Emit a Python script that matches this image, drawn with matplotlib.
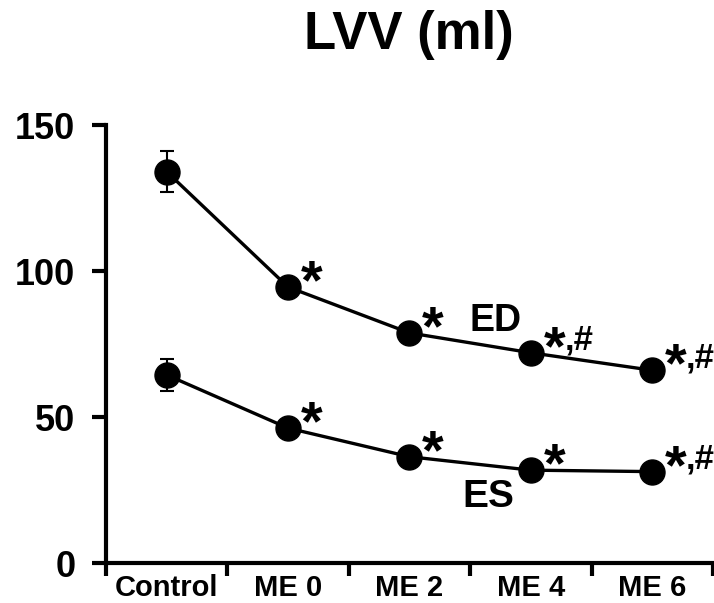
import numpy as np
import matplotlib.pyplot as plt

# data
groups = ['Control', 'ME 0', 'ME 2', 'ME 4', 'ME 6']
ed_mean = [134, 94.5, 78.8, 72, 66]
ed_err = [7, 3, 2, 3, 3]
es_mean = [64.4, 46.2, 36.4, 31.8, 31.3]
es_err = [5.5, 2.5, 2, 2, 1.5]
ed_marks = ['', '*', '*', '*,#', '*,#']
es_marks = ['', '*', '*', '*', '*,#']

plt.rcParams['font.family'] = ['Liberation Sans', 'DejaVu Sans']

fig = plt.figure(figsize=(7.14, 6.03), dpi=100)
ax = fig.add_axes([0.1485, 0.0663, 0.850, 0.7264])

x = np.arange(len(groups))
for mean, err in [(ed_mean, ed_err), (es_mean, es_err)]:
    ax.errorbar(x, mean, yerr=err, color='black', lw=2.4, marker='o',
                markersize=18, elinewidth=1.5, capsize=5, capthick=1.5)


def put_marks(marks, mean):
    for xi, yi, m in zip(x, mean, marks):
        if not m:
            continue
        ax.annotate('*', (xi, yi), xytext=(9, 2), textcoords='offset points',
                    fontsize=40, fontweight='bold', ha='left', va='center')
        if '#' in m:
            ax.annotate(',#', (xi, yi), xytext=(24, 9), textcoords='offset points',
                        fontsize=25, fontweight='bold', ha='left', va='center')


put_marks(ed_marks, ed_mean)
put_marks(es_marks, es_mean)

ax.text(2.71, 83, 'ED', fontsize=27, fontweight='bold', ha='center', va='center')
ax.text(2.65, 22.5, 'ES', fontsize=28, fontweight='bold', ha='center', va='center')

ax.set_xlim(-0.5, 4.5)
ax.set_ylim(0, 150)
ax.set_yticks([0, 50, 100, 150])
ax.set_xticks(x)
ax.set_xticklabels(groups, fontsize=21, fontweight='bold')
ax.set_xticks(np.arange(-0.5, 5, 1), minor=True)
ax.tick_params(axis='x', which='major', length=0, pad=8)
ax.tick_params(axis='x', which='minor', length=9, width=3, direction='out')
ax.tick_params(axis='y', length=10, width=3, labelsize=26, pad=12)
for lab in ax.get_yticklabels():
    lab.set_fontweight('bold')

for side in ['top', 'right']:
    ax.spines[side].set_visible(False)
for side in ['left', 'bottom']:
    ax.spines[side].set_linewidth(3)

fig.text(0.572, 0.918, 'LVV (ml)', fontsize=38, fontweight='bold',
         ha='center', va='baseline')

fig.savefig('out.png', dpi=100)
